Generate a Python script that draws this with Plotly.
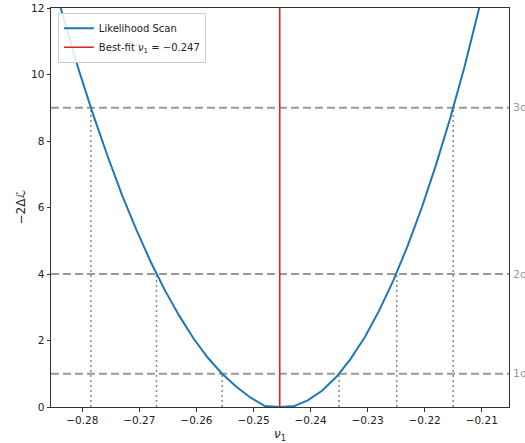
import plotly.graph_objects as go

# Likelihood scan points
nu1 = [-0.2855, -0.2830, -0.2805, -0.2780, -0.2755, -0.2730, -0.2705, -0.2680,
       -0.2655, -0.2630, -0.2605, -0.2580, -0.2555, -0.2530, -0.2505, -0.2480,
       -0.2455, -0.2430, -0.2405, -0.2380, -0.2355, -0.2330, -0.2305, -0.2280,
       -0.2255, -0.2230, -0.2205, -0.2180, -0.2155, -0.2130, -0.2105, -0.2080,
       -0.2055]
m2dl = [13.0, 11.5, 10.07, 8.74, 7.51, 6.36, 5.32, 4.36,
        3.50, 2.74, 2.06, 1.48, 1.00, 0.61, 0.28, 0.03,
        0.00, 0.02, 0.20, 0.49, 0.90, 1.44, 2.10, 2.89,
        3.80, 4.84, 6.00, 7.29, 8.70, 10.24, 11.90, 13.69,
        15.6]

best_fit_x = -0.2454
best_fit_label = -0.247

levels = [1, 4, 9]
level_labels = ["1σ", "2σ", "3σ"]
left_cross = [-0.2555, -0.2670, -0.2785]
right_cross = [-0.2350, -0.2249, -0.2150]

x_ticks = [-0.28, -0.27, -0.26, -0.25, -0.24, -0.23, -0.22, -0.21]
y_ticks = [0, 2, 4, 6, 8, 10, 12]

fig = go.Figure()

fig.add_trace(go.Scatter(x=nu1, y=m2dl, mode="lines", name="Likelihood Scan",
                         line=dict(color="#1f77b4", width=2)))
label_num = f"{best_fit_label:.3f}".replace("-", "−")
fig.add_trace(go.Scatter(x=[best_fit_x, best_fit_x], y=[0, 12], mode="lines",
                         name=f"Best-fit <i>ν</i><sub>1</sub> = {label_num}",
                         line=dict(color="#d62728", width=1.6)))

shapes = []
for lv in levels:
    shapes.append(dict(type="line", xref="paper", x0=0, x1=1, yref="y", y0=lv, y1=lv,
                       line=dict(color="#999999", width=1.8, dash="8px,4px"), layer="below"))
for xl, xr, lv in zip(left_cross, right_cross, levels):
    for xv in (xl, xr):
        shapes.append(dict(type="line", xref="x", x0=xv, x1=xv, yref="y", y0=0, y1=lv,
                           line=dict(color="#888888", width=1.5, dash="2px,3px"), layer="below"))

annotations = []
for lv, lab in zip(levels, level_labels):
    annotations.append(dict(x=1, xref="paper", y=lv, yref="y", text=lab, showarrow=False,
                            xanchor="left", yanchor="middle", xshift=2,
                            font=dict(color="#999999", size=11)))
# axis titles
annotations.append(dict(x=0.5, xref="paper", y=0, yref="paper", yshift=-28,
                        text="<i>ν</i><sub>1</sub>", showarrow=False,
                        xanchor="center", yanchor="middle", font=dict(size=12)))
annotations.append(dict(x=0, xref="paper", y=0.5, yref="paper", xshift=-31, yshift=0,
                        text="−2Δ<i>ℒ</i>", showarrow=False, textangle=-90,
                        xanchor="center", yanchor="middle", font=dict(size=12)))

fig.update_layout(
    width=525, height=443,
    margin=dict(l=51, r=16, t=8, b=36, autoexpand=False),
    paper_bgcolor="white", plot_bgcolor="white",
    font=dict(family="DejaVu Sans", size=10.5, color="#222222"),
    showlegend=True,
    legend=dict(x=0.015, y=0.988, xanchor="left", yanchor="top",
                bgcolor="rgba(255,255,255,0.85)", bordercolor="#cccccc", borderwidth=1,
                font=dict(size=10), tracegroupgap=0),
    shapes=shapes,
    annotations=annotations,
)
fig.update_xaxes(range=[-0.28549, -0.20522], tickvals=x_ticks, tickformat=".2f",
                 showgrid=False, zeroline=False, showline=True, linecolor="#333333",
                 linewidth=1, mirror=True, ticks="outside", ticklen=3.5, tickcolor="#333333",
                 automargin=False)
fig.update_yaxes(range=[0, 12], tickvals=y_ticks,
                 showgrid=False, zeroline=False, showline=True, linecolor="#333333",
                 linewidth=1, mirror=True, ticks="outside", ticklen=3.5, tickcolor="#333333",
                 automargin=False)

fig.write_html("out.html")
